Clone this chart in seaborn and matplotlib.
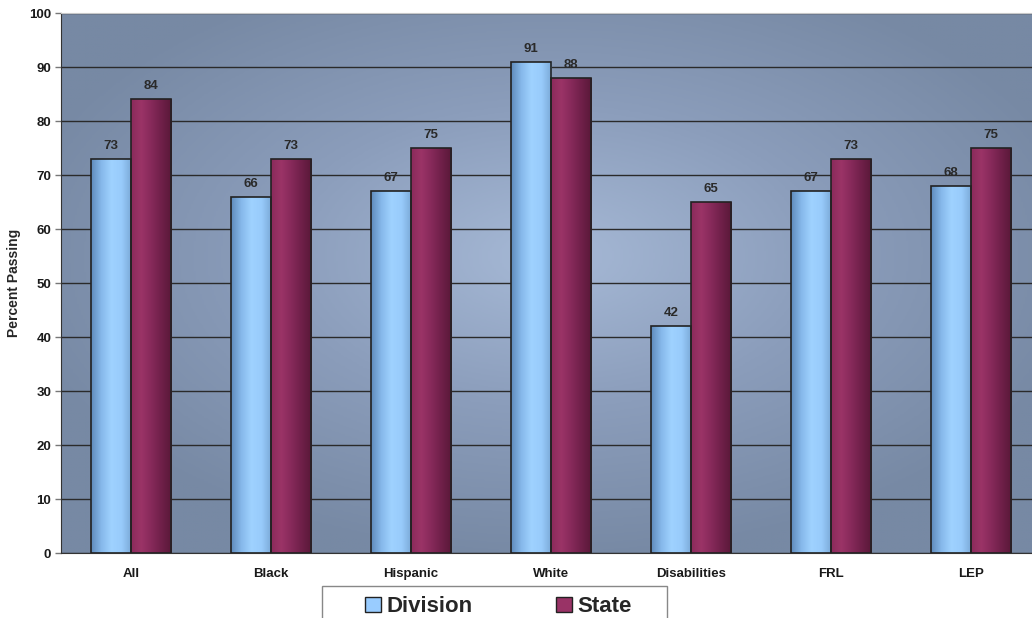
import numpy as np
import pandas as pd
import matplotlib.pyplot as plt
import seaborn as sns
from matplotlib.colors import LinearSegmentedColormap
from matplotlib.patches import Patch, Rectangle

# Values
categories = ['All', 'Black', 'Hispanic', 'White', 'Disabilities', 'FRL', 'LEP']
division = [73, 66, 67, 91, 42, 67, 68]
state = [84, 73, 75, 88, 65, 73, 75]
series_names = ['Division', 'State']

df = pd.DataFrame({
    'Group': categories * 2,
    'Percent': division + state,
    'Series': [series_names[0]] * len(categories) + [series_names[1]] * len(categories),
})

sns.set_style('white')
plt.rcParams['font.family'] = ['Liberation Sans', 'DejaVu Sans']

W, H = 1032, 618
fig = plt.figure(figsize=(W / 100, H / 100), dpi=100)
# plot area runs past the right edge of the figure, as in the original
ax = fig.add_axes([61 / W, 65 / H, 980 / W, 540 / H])

base_colors = {'Division': '#99ccff', 'State': '#993366'}
sns.barplot(data=df, x='Group', y='Percent', hue='Series', palette=base_colors,
            width=0.572, edgecolor='#222222', linewidth=1.2, legend=False, ax=ax)

# radial gradient background
yy, xx = np.mgrid[0:1:300j, 0:1:500j]
r = np.sqrt(((xx - 0.5) / 0.75) ** 2 + ((yy - 0.45) / 0.75) ** 2)
bg_cmap = LinearSegmentedColormap.from_list('bg', ['#a6b9d6', '#8b9dbb', '#7789a4'])
ax.imshow(r, cmap=bg_cmap, extent=[0, 1, 0, 1], transform=ax.transAxes,
          aspect='auto', zorder=0, vmin=0, vmax=0.75)

# horizontal gradient inside each bar
grad_maps = {
    'Division': LinearSegmentedColormap.from_list('div', ['#5f8bbb', '#86b8ea', '#9fd2ff', '#98cbfb', '#7aa8d6']),
    'State': LinearSegmentedColormap.from_list('sta', ['#8a2a5b', '#9b3467', '#86295a', '#6f2049', '#5a1838']),
}
grad = np.linspace(0, 1, 100).reshape(1, -1)
for name, cont in zip(series_names, ax.containers):
    for bar in cont:
        x0, y0 = bar.get_x(), bar.get_y()
        w, h = bar.get_width(), bar.get_height()
        im = ax.imshow(grad, cmap=grad_maps[name], extent=[x0, x0 + w, y0, y0 + h],
                       aspect='auto', zorder=1.5)
        im.set_clip_path(bar)
        bar.set_facecolor('none')
        bar.set_zorder(2)
    ax.bar_label(cont, padding=5, fontsize=9.5, fontweight='bold', color='#2a2a2a')

ax.set_xlim(-0.5, len(categories) - 0.5)
ax.set_ylim(0, 100)
ax.set_yticks(range(0, 101, 10))
ax.yaxis.grid(True, color='#2a2a2a', linewidth=1)
ax.set_axisbelow(True)

ax.set_xticks(np.arange(-0.5, len(categories), 1), minor=True)
ax.tick_params(axis='x', which='major', length=0, pad=11)
ax.tick_params(axis='x', which='minor', length=5, width=1, color='#777777', direction='out')
ax.tick_params(axis='y', length=4, width=1, color='#777777', direction='out', left=True, pad=3)
for lab in ax.get_xticklabels() + ax.get_yticklabels():
    lab.set_fontsize(9.5)
    lab.set_fontweight('bold')
    lab.set_color('#1a1a1a')

ax.set_xlabel('')
ax.set_ylabel('Percent Passing', fontsize=10, fontweight='bold', labelpad=6)

ax.spines['top'].set_color('#c8c8c8')
ax.spines['right'].set_visible(False)
ax.spines['left'].set_color('#333333')
ax.spines['bottom'].set_color('#333333')

# legend box (runs off the bottom of the figure)
fig.patches.append(Rectangle((322 / W, -0.05), 345 / W, 0.05 + 32 / H,
                             transform=fig.transFigure, facecolor='white',
                             edgecolor='#888888', linewidth=1, zorder=3))
handles = [Patch(facecolor=base_colors[n], edgecolor='#222222', linewidth=1) for n in series_names]
leg = fig.legend(handles, series_names, loc='upper left',
                 bbox_to_anchor=(361 / W, 1 - 592 / H), ncol=2,
                 prop={'size': 16, 'weight': 'bold'}, frameon=False,
                 handlelength=0.7, handleheight=0.7, handletextpad=0.25,
                 columnspacing=3.75, borderpad=0.2, borderaxespad=0)
leg.set_zorder(4)

fig.savefig('out.png', dpi=100)
